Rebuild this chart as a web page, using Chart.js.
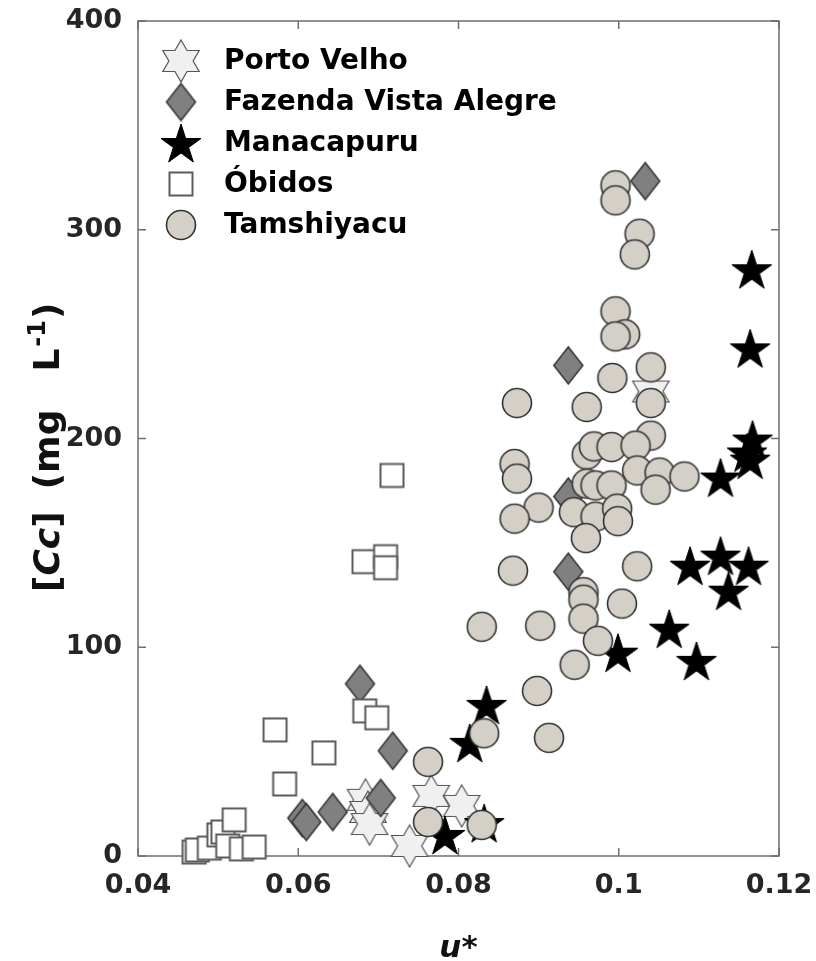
<!DOCTYPE html>
<html><head><meta charset="utf-8">
<script src="https://cdn.jsdelivr.net/npm/chart.js@4.4.1/dist/chart.umd.min.js"></script>
<style>html,body{margin:0;padding:0;background:#fff;}canvas{display:block;}</style>
</head><body>
<canvas id="c" width="816" height="961"></canvas>
<script>
// ---------- data ----------
const seriesNames = ['Porto Velho', 'Fazenda Vista Alegre', 'Manacapuru', 'Óbidos', 'Tamshiyacu'];
const xTickLabels = ['0.04', '0.06', '0.08', '0.1', '0.12'];
const yTickLabels = ['0', '100', '200', '300', '400'];

const portoVelhoX = [0.0684, 0.0687, 0.0689, 0.0739, 0.0766, 0.0804, 0.1040];
const portoVelhoY = [26.9, 21.1, 15.3, 4.8, 28.8, 24.0, 222.5];

const fazendaX = [0.0605, 0.0610, 0.0643, 0.0677, 0.0703, 0.0718, 0.0937, 0.0937, 0.0937, 0.1033];
const fazendaY = [18.2, 16.3, 21.1, 82.5, 27.8, 50.4, 172.2, 136.2, 235.0, 323.3];

const manacapuruX = [0.0783, 0.0832, 0.0814, 0.0835, 0.0999, 0.1063, 0.1097, 0.1089, 0.1127, 0.1162, 0.1137, 0.1127, 0.1167, 0.1160, 0.1164, 0.1164, 0.1166];
const manacapuruY = [10.1, 15.8, 54.2, 72.4, 97.4, 108.9, 93.5, 139.1, 143.9, 139.1, 127.1, 181.3, 199.5, 193.3, 189.9, 243.2, 281.1];

const obidosX = [0.0470, 0.0474, 0.0489, 0.0501, 0.0506, 0.0512, 0.0520, 0.0529, 0.0545, 0.0571, 0.0583, 0.0632, 0.0682, 0.0683, 0.0698, 0.0709, 0.0709, 0.0717];
const obidosY = [1.9, 2.9, 3.8, 10.1, 11.5, 4.8, 17.3, 3.4, 4.3, 60.4, 34.5, 49.4, 141.0, 69.5, 66.2, 143.4, 138.1, 182.3];

const tamshiyacuX = [0.0996, 0.0996, 0.1026, 0.1020, 0.0996, 0.1008, 0.0996, 0.0992, 0.1040, 0.0873,
  0.0960, 0.1040, 0.1040, 0.0960, 0.0969, 0.0991, 0.1021, 0.0870, 0.0873, 0.1023,
  0.1051, 0.1082, 0.1046, 0.0960, 0.0971, 0.0991, 0.0900, 0.0870, 0.0944, 0.0971,
  0.0998, 0.0999, 0.0959, 0.1023, 0.0868, 0.0956, 0.0956, 0.1004, 0.0956, 0.0829,
  0.0902, 0.0974, 0.0945, 0.0898, 0.0913, 0.0832, 0.0762, 0.0762, 0.0829];
const tamshiyacuY = [321.3, 314.1, 298.1, 288.2, 260.9, 249.9, 248.9, 229.0, 234.1, 217.0,
  215.1, 217.0, 201.4, 192.3, 196.2, 195.9, 196.6, 187.8, 180.8, 184.7,
  183.7, 181.8, 175.5, 178.4, 177.5, 177.5, 166.9, 161.6, 164.7, 162.6,
  166.4, 160.4, 152.3, 138.8, 136.7, 126.4, 122.8, 120.9, 113.7, 109.8,
  110.3, 103.1, 91.6, 79.1, 56.6, 58.8, 45.1, 16.3, 14.9];

// ---------- markers ----------
function mk(w, h, fn) {
  const c = document.createElement('canvas');
  c.width = w; c.height = h;
  const g = c.getContext('2d');
  fn(g, w / 2, h / 2);
  return c;
}
function poly(g, pts, fill, stroke, lw) {
  g.beginPath();
  pts.forEach((p, i) => i ? g.lineTo(p[0], p[1]) : g.moveTo(p[0], p[1]));
  g.closePath();
  g.fillStyle = fill; g.fill();
  g.lineWidth = lw; g.strokeStyle = stroke; g.lineJoin = 'miter'; g.stroke();
}
const hexImg = mk(48, 48, (g, cx, cy) => {
  const R = 21, r = R / Math.sqrt(3), pts = [];
  for (let k = 0; k < 12; k++) {
    const a = (-90 + k * 30) * Math.PI / 180, rr = k % 2 ? r : R;
    pts.push([cx + rr * Math.cos(a), cy + rr * Math.sin(a)]);
  }
  poly(g, pts, '#f0f0f0', '#555555', 1.2);
});
const diaImg = mk(35, 43, (g, cx, cy) => {
  poly(g, [[cx, cy - 18.5], [cx + 14.5, cy], [cx, cy + 18.5], [cx - 14.5, cy]], '#808080', '#333333', 1.5);
});
const starImg = mk(48, 46, (g, cx, cy) => {
  const R = 21, r = R * 0.382, pts = [], oy = cy + 2;
  for (let k = 0; k < 10; k++) {
    const a = (-90 + k * 36) * Math.PI / 180, rr = k % 2 ? r : R;
    pts.push([cx + rr * Math.cos(a), oy + rr * Math.sin(a)]);
  }
  poly(g, pts, '#000000', '#000000', 1);
});
const sqImg = mk(28, 28, (g, cx, cy) => {
  g.fillStyle = '#ffffff'; g.fillRect(cx - 11.5, cy - 11.5, 23, 23);
  g.lineWidth = 2; g.strokeStyle = '#5a5a5a'; g.strokeRect(cx - 11.5, cy - 11.5, 23, 23);
});
const cirImg = mk(34, 34, (g, cx, cy) => {
  g.beginPath(); g.arc(cx, cy, 14.5, 0, Math.PI * 2);
  g.fillStyle = '#d4d0c8'; g.fill();
  g.lineWidth = 1.6; g.strokeStyle = '#333333'; g.stroke();
});
const markerImgs = [hexImg, diaImg, starImg, sqImg, cirImg];

function pts(xs, ys) { return xs.map((x, i) => ({ x: x, y: ys[i] })); }
const seriesData = [
  pts(portoVelhoX, portoVelhoY),
  pts(fazendaX, fazendaY),
  pts(manacapuruX, manacapuruY),
  pts(obidosX, obidosY),
  pts(tamshiyacuX, tamshiyacuY)
];

// ---------- plugins ----------
const FRAME = '#6e6e6e';
const framePlugin = {
  id: 'frame',
  beforeDatasetsDraw(chart) {
    const { ctx, chartArea: a, scales } = chart;
    ctx.save();
    ctx.strokeStyle = FRAME; ctx.lineWidth = 1.5;
    ctx.strokeRect(a.left, a.top, a.right - a.left, a.bottom - a.top);
    const L = 8;
    ctx.beginPath();
    scales.x.ticks.forEach(t => {
      const px = scales.x.getPixelForValue(t.value);
      ctx.moveTo(px, a.bottom); ctx.lineTo(px, a.bottom - L);
      ctx.moveTo(px, a.top); ctx.lineTo(px, a.top + L);
    });
    scales.y.ticks.forEach(t => {
      const py = scales.y.getPixelForValue(t.value);
      ctx.moveTo(a.left, py); ctx.lineTo(a.left + L, py);
      ctx.moveTo(a.right, py); ctx.lineTo(a.right - L, py);
    });
    ctx.stroke();
    ctx.restore();
  }
};
const FONT = '"DejaVu Sans", "Liberation Sans", Arial, sans-serif';
const textPlugin = {
  id: 'texts',
  afterDraw(chart) {
    const { ctx, chartArea: a } = chart;
    ctx.save();
    // legend
    ctx.font = 'bold 28px ' + FONT;
    ctx.fillStyle = '#000';
    ctx.textBaseline = 'middle';
    ctx.textAlign = 'left';
    seriesNames.forEach((name, i) => {
      const y = 61 + i * 41;
      const img = markerImgs[i];
      ctx.drawImage(img, 181 - img.width / 2, y - img.height / 2);
      ctx.fillText(name, 224, y + 1);
    });
    // x title
    ctx.textAlign = 'center';
    ctx.textBaseline = 'alphabetic';
    ctx.font = 'italic bold 31px ' + FONT;
    ctx.fillStyle = '#111';
    ctx.fillText('u*', (a.left + a.right) / 2, 957);
    // y title (rotated, mixed styles)
    const segs = [
      { t: '[', f: 'bold 36px ' + FONT, dy: 0, gap: 0 },
      { t: 'Cc', f: 'italic bold 36px ' + FONT, dy: 0, gap: 0 },
      { t: ']', f: 'bold 36px ' + FONT, dy: 0, gap: 22 },
      { t: '(mg', f: 'bold 36px ' + FONT, dy: 0, gap: 38 },
      { t: 'L', f: 'bold 36px ' + FONT, dy: 0, gap: 2 },
      { t: '-1', f: 'bold 24px ' + FONT, dy: -14, gap: 1 },
      { t: ')', f: 'bold 36px ' + FONT, dy: 0, gap: 0 }
    ];
    let total = 0;
    segs.forEach(s => { ctx.font = s.f; s.w = ctx.measureText(s.t).width; total += s.w + s.gap; });
    ctx.translate(59, 592);
    ctx.rotate(-Math.PI / 2);
    ctx.textAlign = 'left';
    let x = 0;
    segs.forEach(s => { ctx.font = s.f; ctx.fillText(s.t, x, s.dy); x += s.w + s.gap; });
    ctx.restore();
  }
};

// ---------- chart ----------
const drawOrder = [4, 3, 2, 1, 0];
new Chart(document.getElementById('c'), {
  type: 'scatter',
  data: {
    datasets: seriesNames.map((name, i) => ({
      label: name,
      data: seriesData[i],
      pointStyle: markerImgs[i],
      pointRadius: 10,
      pointHoverRadius: 10,
      order: drawOrder[i],
      clip: false
    }))
  },
  options: {
    responsive: false,
    animation: false,
    devicePixelRatio: 1,
    layout: { autoPadding: false, padding: { left: 0, right: 37, top: 21, bottom: 0 } },
    plugins: { legend: { display: false }, tooltip: { enabled: false } },
    scales: {
      x: {
        type: 'linear', min: 0.04, max: 0.12,
        afterFit(s) { s.height = 105; s.paddingLeft = 0; s.paddingRight = 0; },
        grid: { display: false, drawTicks: false },
        border: { display: false },
        ticks: {
          stepSize: 0.02, padding: 14, color: '#262626',
          font: { family: FONT, size: 27, weight: 'bold' },
          callback: (v) => xTickLabels[Math.round((v - 0.04) / 0.02)]
        }
      },
      y: {
        type: 'linear', min: 0, max: 400,
        afterFit(s) { s.width = 138; s.paddingTop = 0; s.paddingBottom = 0; },
        grid: { display: false, drawTicks: false },
        border: { display: false },
        ticks: {
          stepSize: 100, padding: 16, color: '#262626',
          font: { family: FONT, size: 27, weight: 'bold' },
          callback: (v) => yTickLabels[Math.round(v / 100)]
        }
      }
    }
  },
  plugins: [framePlugin, textPlugin]
});
</script>
</body></html>
